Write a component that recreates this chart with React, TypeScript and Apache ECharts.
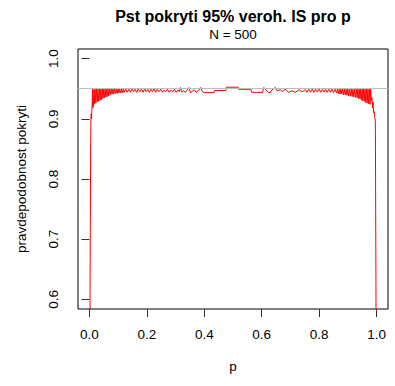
import React, { useEffect, useRef } from "react";
import * as echarts from "echarts";

// Coverage probability [p, coverage], by region
const leftEdge: [number, number][] = [
  [0, 0], [0.002, 0.62], [0.004, 0.85], [0.005, 0.895], [0.006, 0.908], [0.007, 0.9],
  [0.008, 0.912], [0.009, 0.92], [0.0105, 0.949], [0.012, 0.918], [0.013, 0.935],
  [0.014, 0.922], [0.0155, 0.949], [0.017, 0.925],
];
const leftOscillation: [number, number][] = [
  [0.0195, 0.949], [0.022, 0.926], [0.0245, 0.95], [0.027, 0.928], [0.0295, 0.949],
  [0.032, 0.929], [0.0345, 0.95], [0.037, 0.931], [0.0395, 0.949], [0.042, 0.932],
  [0.0445, 0.95], [0.047, 0.934], [0.0495, 0.949], [0.052, 0.935], [0.0545, 0.95],
  [0.057, 0.936], [0.0595, 0.949], [0.062, 0.937], [0.0645, 0.95], [0.067, 0.938],
  [0.0695, 0.949], [0.0725, 0.94], [0.0755, 0.95], [0.0785, 0.941], [0.0815, 0.949],
  [0.0845, 0.941], [0.0875, 0.95], [0.0905, 0.942], [0.0935, 0.949], [0.0965, 0.942],
  [0.0995, 0.95], [0.1025, 0.943], [0.1055, 0.949], [0.1085, 0.943], [0.1115, 0.95],
  [0.1145, 0.943], [0.1175, 0.949], [0.1205, 0.944],
];
const leftFlank: [number, number][] = [
  [0.126, 0.95], [0.1315, 0.944], [0.137, 0.949], [0.1425, 0.944], [0.148, 0.95],
  [0.1535, 0.945], [0.159, 0.949], [0.1645, 0.944], [0.17, 0.95], [0.1755, 0.945],
  [0.181, 0.949], [0.1865, 0.944], [0.192, 0.95], [0.1975, 0.945], [0.203, 0.949],
  [0.2085, 0.944], [0.214, 0.949], [0.2195, 0.945], [0.225, 0.95], [0.2305, 0.944],
  [0.236, 0.949], [0.242, 0.945], [0.248, 0.949], [0.254, 0.944], [0.26, 0.948],
  [0.266, 0.945], [0.272, 0.949], [0.278, 0.944], [0.284, 0.948], [0.29, 0.945],
  [0.296, 0.949], [0.302, 0.944], [0.308, 0.948], [0.313, 0.945],
];
const middle: [number, number][] = [
  [0.317, 0.952], [0.322, 0.944], [0.328, 0.947], [0.334, 0.944], [0.34, 0.948],
  [0.347, 0.952], [0.352, 0.943], [0.358, 0.946], [0.365, 0.948], [0.372, 0.944],
  [0.38, 0.947], [0.387, 0.952], [0.392, 0.946], [0.398, 0.9435], [0.434, 0.9435],
  [0.436, 0.947], [0.475, 0.947], [0.477, 0.9525], [0.518, 0.9525], [0.52, 0.949],
  [0.562, 0.949], [0.565, 0.944], [0.603, 0.944], [0.607, 0.952], [0.613, 0.9494],
  [0.623, 0.9439], [0.63, 0.9439], [0.636, 0.9483], [0.648, 0.952], [0.654, 0.9466],
  [0.665, 0.9483], [0.671, 0.945], [0.683, 0.9494], [0.694, 0.9439], [0.706, 0.9466],
  [0.717, 0.9439], [0.729, 0.9483], [0.741, 0.945], [0.752, 0.9483],
];
const rightFlank: [number, number][] = [
  [0.758, 0.944], [0.764, 0.949], [0.77, 0.944], [0.776, 0.9494], [0.782, 0.944],
  [0.788, 0.949], [0.794, 0.9445], [0.8, 0.9494], [0.806, 0.944], [0.8115, 0.949],
  [0.817, 0.9445], [0.8225, 0.9494], [0.828, 0.944], [0.8335, 0.949], [0.839, 0.944],
  [0.8445, 0.9494], [0.85, 0.9435], [0.8555, 0.949], [0.861, 0.943],
];
const rightOscillation: [number, number][] = [
  [0.864, 0.9494], [0.867, 0.942], [0.87, 0.949], [0.873, 0.941], [0.876, 0.9494],
  [0.879, 0.941], [0.882, 0.949], [0.885, 0.94], [0.888, 0.9494], [0.891, 0.9395],
  [0.894, 0.949], [0.897, 0.939], [0.9, 0.9494], [0.903, 0.938], [0.906, 0.949],
  [0.909, 0.9375], [0.912, 0.9494], [0.915, 0.937], [0.918, 0.949], [0.921, 0.936],
  [0.924, 0.9494], [0.927, 0.9355], [0.93, 0.949], [0.9325, 0.935], [0.935, 0.9494],
  [0.9375, 0.934], [0.94, 0.949], [0.9425, 0.933], [0.945, 0.9494], [0.9475, 0.931],
  [0.95, 0.949], [0.9525, 0.93], [0.955, 0.9494], [0.9575, 0.929], [0.96, 0.949],
  [0.9625, 0.927], [0.965, 0.9494], [0.9675, 0.926], [0.97, 0.949], [0.9725, 0.925],
  [0.975, 0.9494], [0.9775, 0.924], [0.9795, 0.9494],
];
const rightEdge: [number, number][] = [
  [0.982, 0.93], [0.984, 0.935], [0.986, 0.918], [0.988, 0.928], [0.99, 0.91],
  [0.992, 0.912], [0.994, 0.902], [0.995, 0.9], [0.996, 0.895], [0.998, 0.63], [1, 0],
];

const xTicks = [0, 0.2, 0.4, 0.6, 0.8, 1.0];
const yTicks = [0.6, 0.7, 0.8, 0.9, 1.0];
const nominalLevel = 0.95;
const TITLE = "Pst pokryti 95% veroh. IS pro p";
const SUBTITLE = "N = 500";
const X_NAME = "p";
const Y_NAME = "pravdepodobnost pokryti";

const FONT = "'Liberation Sans', Arial, Helvetica, sans-serif";

export default function App() {
  const ref = useRef<HTMLDivElement>(null);
  useEffect(() => {
    if (!ref.current) return;
    const chart = echarts.init(ref.current, null, { renderer: "svg" });
    const data = [
      ...leftEdge, ...leftOscillation, ...leftFlank, ...middle,
      ...rightFlank, ...rightOscillation, ...rightEdge,
    ];
    const axisCommon = {
      type: "value" as const,
      axisLine: { show: false },
      splitLine: { show: false },
      nameLocation: "middle" as const,
      nameGap: 50,
      nameTextStyle: { fontSize: 13.5, color: "#000", fontFamily: FONT },
    };
    chart.setOption({
      animation: false,
      backgroundColor: "#fff",
      textStyle: { fontFamily: FONT },
      grid: {
        left: 78, top: 49, width: 310, height: 260,
        show: true, borderColor: "#000", borderWidth: 1, backgroundColor: "transparent",
      },
      xAxis: {
        ...axisCommon,
        min: -0.04, max: 1.04,
        name: X_NAME,
        axisTick: { show: true, customValues: xTicks, length: 8, lineStyle: { color: "#333", width: 1 } },
        axisLabel: {
          customValues: xTicks, margin: 18, fontSize: 13.5, color: "#000", fontFamily: FONT,
          formatter: (v: number) => v.toFixed(1),
        },
      },
      yAxis: {
        ...axisCommon,
        min: 0.584, max: 1.016,
        name: Y_NAME,
        nameGap: 50,
        axisTick: { show: true, customValues: yTicks, length: 8, lineStyle: { color: "#333", width: 1 } },
        axisLabel: {
          customValues: yTicks, margin: 18, fontSize: 13.5, color: "#000", fontFamily: FONT, rotate: 90,
          formatter: (v: number) => v.toFixed(1),
        },
      },
      graphic: [
        {
          type: "text", x: 233, y: 16.2,
          style: {
            text: TITLE, fontSize: 16, fontWeight: "bold", fontFamily: FONT, fill: "#000",
            align: "center", verticalAlign: "middle", textAlign: "center", textVerticalAlign: "middle",
          },
        },
        {
          type: "text", x: 233, y: 34.3,
          style: {
            text: SUBTITLE, fontSize: 13.5, fontFamily: FONT, fill: "#000",
            align: "center", verticalAlign: "middle", textAlign: "center", textVerticalAlign: "middle",
          },
        },
      ],
      series: [
        {
          type: "line",
          data,
          symbol: "none",
          showSymbol: false,
          clip: true,
          lineStyle: { color: "#ff0000", width: 1 },
          markLine: {
            silent: true,
            symbol: "none",
            label: { show: false },
            lineStyle: { color: "#bebebe", width: 1, type: "solid" },
            data: [{ yAxis: nominalLevel }],
          },
        },
      ],
    });
    return () => chart.dispose();
  }, []);
  return <div ref={ref} style={{ position: "absolute", left: 0, top: 0, width: 395, height: 386 }} />;
}
